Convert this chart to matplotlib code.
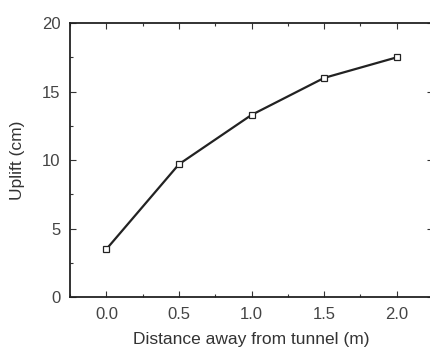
import matplotlib
matplotlib.use("Agg")
import matplotlib.pyplot as plt
from matplotlib.ticker import MultipleLocator

distance = [0.0, 0.5, 1.0, 1.5, 2.0]
uplift = [3.5, 9.7, 13.3, 16.0, 17.5]
xticks = [0.0, 0.5, 1.0, 1.5, 2.0]
yticks = [0, 5, 10, 15, 20]

plt.rcParams['font.family'] = ['Liberation Sans', 'DejaVu Sans']
fig = plt.figure(figsize=(4.3, 3.5), dpi=100)
ax = fig.add_axes([0.163, 0.151, 0.844, 0.783])
ax.plot(distance, uplift, color='#222222', lw=1.6, marker='s', ms=5,
        mfc='white', mec='#222222', mew=0.9)
ax.set_xlim(-0.25, 2.25)
ax.set_ylim(0, 20)
ax.set_xticks(xticks)
ax.set_xticklabels([f"{v:.1f}" for v in xticks])
ax.set_yticks(yticks)
ax.xaxis.set_minor_locator(MultipleLocator(0.25))
ax.yaxis.set_minor_locator(MultipleLocator(2.5))
ax.tick_params(which='both', direction='in', top=True, right=True,
               labelsize=12, labelcolor='#444444', color='#333333')
ax.tick_params(which='major', length=4, width=0.8, pad=7)
ax.tick_params(which='minor', length=2.5, width=0.8)
for s in ax.spines.values():
    s.set_linewidth(1.3)
    s.set_color('#222222')
ax.set_xlabel('Distance away from tunnel (m)', fontsize=12.5, color='#333333', labelpad=7)
ax.set_ylabel('Uplift (cm)', fontsize=12.5, color='#333333', labelpad=12)
fig.savefig('out.png', dpi=100)
